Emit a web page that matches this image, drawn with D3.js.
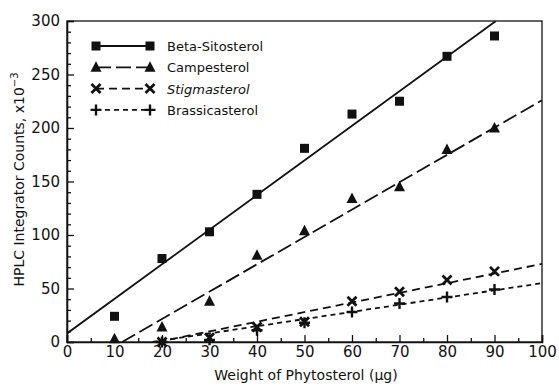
<!doctype html>
<html lang="en">
<head>
<meta charset="UTF-8">
<title>HPLC Phytosterol Calibration</title>
<style>
  body { margin: 0; background: #fff; }
  svg text { font-family: "DejaVu Sans", sans-serif; fill: #111; }
</style>
</head>
<body>
<div id="chart"></div>
<script src="https://d3js.org/d3.v7.min.js"></script>
<script>
// Data (weight in ug, counts x10^-3)
const weights = [10, 20, 30, 40, 50, 60, 70, 80, 90]
const betaSitosterol = [24, 78, 103, 138, 181, 213, 225, 267, 286]
const campesterol = [3, 14, 38, 81, 104, 134, 145, 180, 200]
const stigWeights = [20, 30, 40, 50, 60, 70, 80, 90]
const stigmasterol = [0, 4, 14, 19, 38, 47, 58, 66]
const brassWeights = [20, 30, 40, 50, 60, 70, 80, 90]
const brassicasterol = [0, 2, 11, 18, 28, 36, 42, 49]
// fitted lines: [start, end] as [weight, counts]
const betaFit = [[0, 8], [90.3, 300]]
const campFit = [[11.6, 0], [100, 226]]
const stigFit = [[19, 0], [100, 73]]
const brassFit = [[18, 0], [100, 55]]
const seriesNames = ['Beta-Sitosterol', 'Campesterol', 'Stigmasterol', 'Brassicasterol']

const width = 559, height = 386
const margin = {left: 67, right: 17, top: 21, bottom: 44}
const w = width - margin.left - margin.right
const h = height - margin.top - margin.bottom

const x = d3.scaleLinear().domain([0, 100]).range([0, w])
const y = d3.scaleLinear().domain([0, 300]).range([h, 0])

const svg = d3.select('#chart').append('svg')
  .attr('width', width).attr('height', height)
const g = svg.append('g').attr('transform', `translate(${margin.left},${margin.top})`)

g.append('clipPath').attr('id', 'clip')
  .append('rect').attr('width', w).attr('height', h)

// frame
g.append('rect').attr('width', w).attr('height', h)
  .attr('fill', 'none').attr('stroke', '#111').attr('stroke-width', 1.3)

// axes (ticks inside)
g.append('g').attr('transform', `translate(0,${h})`)
  .call(d3.axisBottom(x).tickValues(d3.range(0, 101, 10)).tickSize(-7).tickPadding(4))
g.append('g').attr('transform', `translate(0,${h})`)
  .call(d3.axisBottom(x).tickValues(d3.range(5, 100, 10)).tickSize(-4).tickFormat(''))
  .call(s => s.select('.domain').remove())
g.append('g')
  .call(d3.axisLeft(y).tickValues(d3.range(0, 301, 50)).tickSize(-7).tickPadding(7))
g.append('g')
  .call(d3.axisLeft(y).tickValues(d3.range(10, 300, 10).filter(v => v % 50 !== 0)).tickSize(-4).tickFormat(''))
  .call(s => s.select('.domain').remove())
g.selectAll('.domain').attr('stroke', '#111').attr('stroke-width', 1.6)
g.selectAll('.tick line').attr('stroke', '#111').attr('stroke-width', 1.3)
g.selectAll('.tick text').style('font-size', '15px')

// axis titles
svg.append('text')
  .attr('x', 306).attr('y', 380)
  .attr('text-anchor', 'middle').style('font-size', '14px')
  .text('Weight of Phytosterol (\u03bcg)')

const yt = svg.append('text')
  .attr('transform', `translate(24,${margin.top + h / 2 - 2}) rotate(-90)`)
  .attr('text-anchor', 'middle').style('font-size', '14px')
yt.append('tspan').text('HPLC Integrator Counts, x10')
yt.append('tspan').attr('dy', -6).style('font-size', '10px').text('\u22123')

// series
const series = [
  {name: seriesNames[0], xs: weights, ys: betaSitosterol, fit: betaFit, dash: null, sym: 'square'},
  {name: seriesNames[1], xs: weights, ys: campesterol, fit: campFit, dash: '15,5', sym: 'triangle'},
  {name: seriesNames[2], xs: stigWeights, ys: stigmasterol, fit: stigFit, dash: '8,5', sym: 'x'},
  {name: seriesNames[3], xs: brassWeights, ys: brassicasterol, fit: brassFit, dash: '5,4', sym: 'plus'}
]

function drawSymbol(sel, type, cx, cy) {
  if (type === 'square') {
    sel.append('rect').attr('x', cx - 4.5).attr('y', cy - 4.5).attr('width', 9).attr('height', 9).attr('fill', '#111')
  } else if (type === 'triangle') {
    sel.append('path').attr('d', `M${cx},${cy - 6}L${cx + 5.5},${cy + 4.5}L${cx - 5.5},${cy + 4.5}Z`).attr('fill', '#111')
  } else if (type === 'x') {
    sel.append('path').attr('d', `M${cx - 4.5},${cy - 4.5}L${cx + 4.5},${cy + 4.5}M${cx + 4.5},${cy - 4.5}L${cx - 4.5},${cy + 4.5}`)
      .attr('stroke', '#111').attr('stroke-width', 2.8)
  } else {
    sel.append('path').attr('d', `M${cx - 5.5},${cy}L${cx + 5.5},${cy}M${cx},${cy - 5.5}L${cx},${cy + 5.5}`)
      .attr('stroke', '#111').attr('stroke-width', 2.4)
  }
}

const line = d3.line().x(d => x(d[0])).y(d => y(d[1]))

series.forEach(s => {
  g.append('path')
    .datum(s.fit)
    .attr('d', line)
    .attr('clip-path', 'url(#clip)')
    .attr('fill', 'none').attr('stroke', '#111').attr('stroke-width', 1.8)
    .attr('stroke-dasharray', s.dash)
  const pts = g.append('g')
  s.xs.forEach((v, i) => drawSymbol(pts, s.sym, x(v), y(s.ys[i])))
})

// legend
const legend = svg.append('g').attr('transform', 'translate(96,46)')
series.forEach((s, i) => {
  const row = legend.append('g').attr('transform', `translate(0,${i * 21.3})`)
  row.append('line').attr('x1', 0).attr('x2', 54).attr('y1', 0).attr('y2', 0)
    .attr('stroke', '#111').attr('stroke-width', 1.8).attr('stroke-dasharray', s.dash)
  drawSymbol(row, s.sym, 0, 0)
  drawSymbol(row, s.sym, 54, 0)
  row.append('text').attr('x', 71).attr('y', 5).style('font-size', '13px')
    .style('font-style', i === 2 ? 'italic' : 'normal')
    .text(s.name)
})
</script>
</body>
</html>
